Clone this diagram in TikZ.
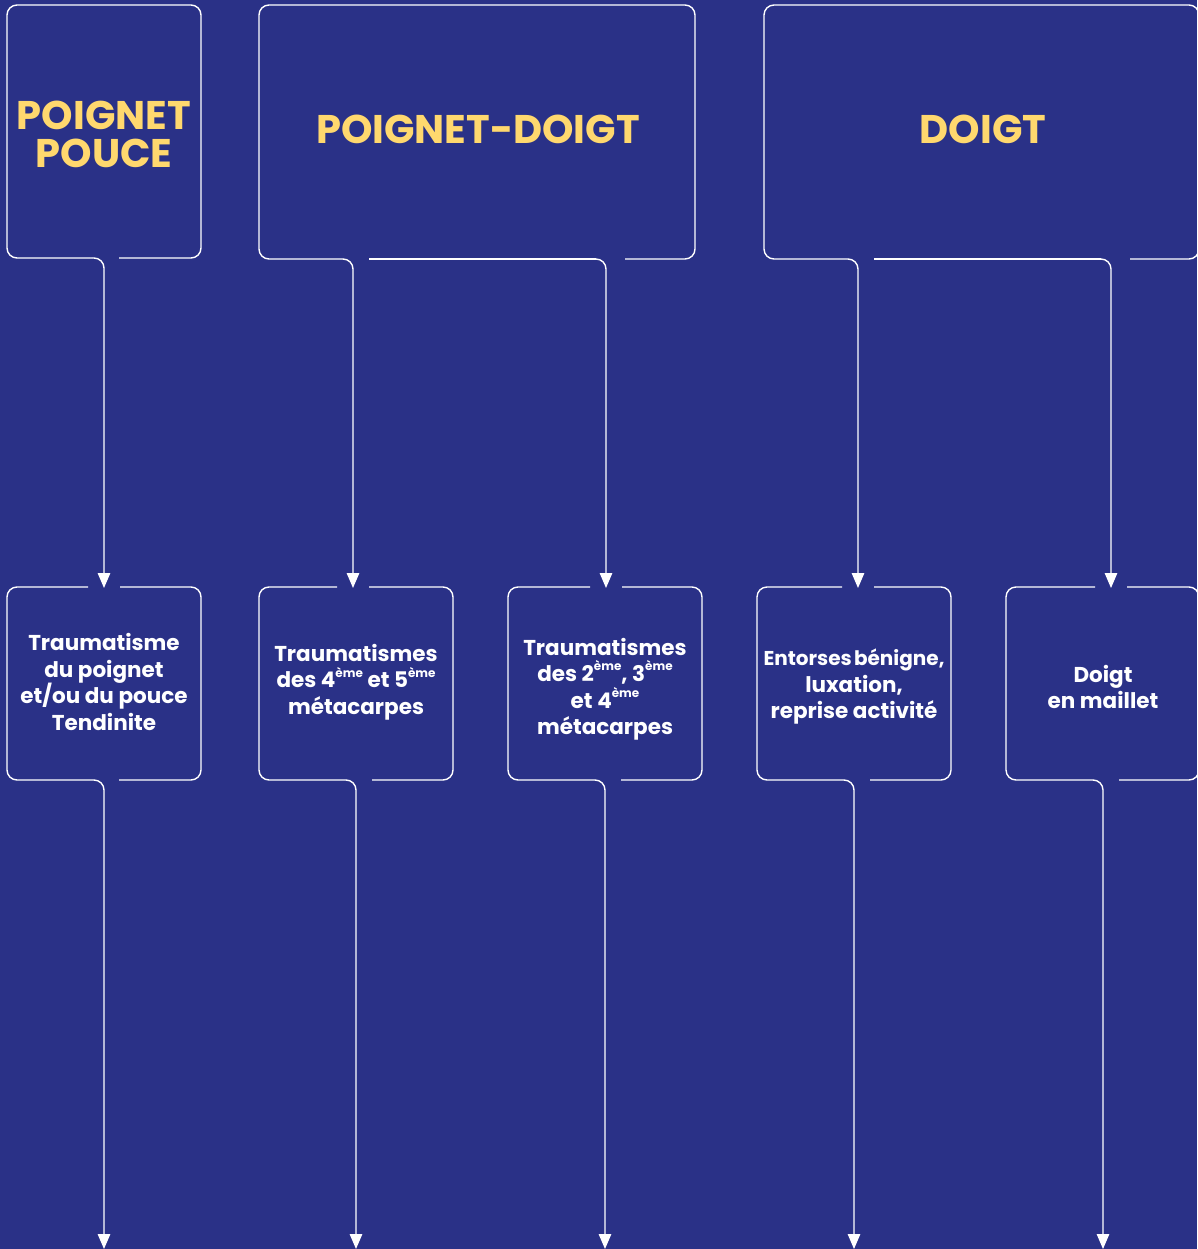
\documentclass[tikz,border=0pt]{standalone}
\usepackage{fontspec}
\setmainfont{Poppins}
\usetikzlibrary{arrows.meta,calc}
\definecolor{bg}{RGB}{42,49,135}
\definecolor{gold}{RGB}{255,216,110}
\newcommand\supx[1]{\raisebox{0.5em}{\fontsize{12}{12}\selectfont #1}}
\begin{document}
\begin{tikzpicture}[x=1pt,y=-1pt,
  border/.style={white,line width=1.4pt,rounded corners=10pt},
  conn/.style={white,line width=1.4pt,rounded corners=10pt,-{Triangle[width=12.5pt,length=15pt]}},
  title/.style={text=gold,font=\fontsize{40}{40}\selectfont\bfseries,align=center},
  lbl/.style={text=white,font=\fontsize{21.5}{26.5}\selectfont\bfseries,align=center,inner sep=0pt}]
\fill[bg] (0,0) rectangle (1197,1249);
\useasboundingbox (0,0) rectangle (1197,1249);

% ---- header texts
\node[title] (t1) at (104,134) {POIGNET\\[-2pt]POUCE};
\node[title] (t2) at (478,129) {POIGNET-DOIGT};
\node[title] (t3) at (983,129) {DOIGT};

% ---- lower texts
\node[lbl] (bA) at (104,682) {Traumatisme\\du poignet\\et/ou du pouce\\Tendinite};
\node[lbl] (bB) at (356,682) {Traumatismes\\des 4\supx{ème} et 5\supx{ème}\\métacarpes};
\node[lbl] (bC) at (605,689) {Traumatismes\\des 2\supx{ème}, 3\supx{ème}\\et 4\supx{ème}\hspace{0.6em}\\métacarpes};
\node[lbl] (bD) at (854,687) {{\fontsize{20}{26.5}\selectfont Entorses\hspace{-0.1em} bénigne,}\\luxation,\\reprise activité};
\node[lbl] (bE) at (1103,687) {Doigt\\en maillet};

% ---- connector coordinates
\coordinate (o1) at (92,258);
\coordinate (o2a) at (343,259);
\coordinate (o2b) at (596,259);
\coordinate (o3a) at (848,259);
\coordinate (o3b) at (1101,259);
\coordinate (iA) at (104,588);
\coordinate (iB) at (353,588);
\coordinate (iC) at (606,588);
\coordinate (iD) at (858,588);
\coordinate (iE) at (1111,588);
\coordinate (oA) at (94,780);
\coordinate (oB) at (346,780);
\coordinate (oC) at (595,780);
\coordinate (oD) at (844,780);
\coordinate (oE) at (1093,780);
\coordinate (eA) at (104,1249);
\coordinate (eB) at (356,1249);
\coordinate (eC) at (605,1249);
\coordinate (eD) at (854,1249);
\coordinate (eE) at (1103,1249);

% ---- header box borders
\draw[border] (119,258) -- (201,258) -- (201,5) -- (7,5) -- (7,258) -- (o1);
\draw[border] (625,259) -- (695,259) -- (695,5) -- (259,5) -- (259,259) -- (o2a);
\draw[border] (369,259) -- (o2b);
\draw[border] (1130,259) -- (1199,259) -- (1199,5) -- (764,5) -- (764,259) -- (o3a);
\draw[border] (874,259) -- (o3b);

% ---- lower box borders
\draw[border] (120,587) -- (201,587) -- (201,780) -- (119,780);
\draw[border] (88,587) -- (7,587) -- (7,780) -- (oA);
\draw[border] (369,587) -- (453,587) -- (453,780) -- (372,780);
\draw[border] (337,587) -- (259,587) -- (259,780) -- (oB);
\draw[border] (622,587) -- (702,587) -- (702,780) -- (621,780);
\draw[border] (590,587) -- (508,587) -- (508,780) -- (oC);
\draw[border] (874,587) -- (951,587) -- (951,780) -- (870,780);
\draw[border] (842,587) -- (757,587) -- (757,780) -- (oD);
\draw[border] (1127,587) -- (1199,587) -- (1199,780) -- (1119,780);
\draw[border] (1095,587) -- (1006,587) -- (1006,780) -- (oE);

% ---- connectors
\draw[conn] (o1) -| (iA);
\draw[conn] (o2a) -| (iB);
\draw[conn] (o2b) -| (iC);
\draw[conn] (o3a) -| (iD);
\draw[conn] (o3b) -| (iE);
\draw[conn] (oA) -| (eA);
\draw[conn] (oB) -| (eB);
\draw[conn] (oC) -| (eC);
\draw[conn] (oD) -| (eD);
\draw[conn] (oE) -| (eE);
\end{tikzpicture}
\end{document}
